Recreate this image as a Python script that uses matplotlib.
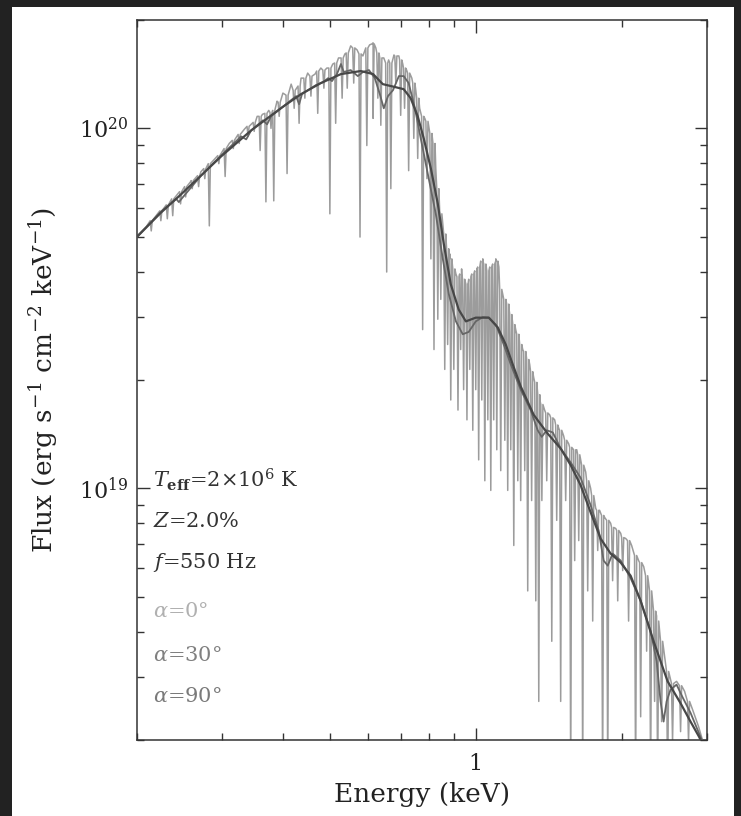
import numpy as np
import matplotlib.pyplot as plt
from matplotlib.patches import Rectangle
from matplotlib.ticker import NullFormatter, LogLocator

plt.rcParams["font.family"] = "DejaVu Serif"
plt.rcParams["mathtext.fontset"] = "dejavuserif"

# flux values are in units of 1e19 erg/s/cm^2/keV, energies in keV

# alpha = 90 deg (smooth, fully broadened)
e90 = [0.201, 0.224, 0.246, 0.271, 0.298, 0.344, 0.396, 0.436, 0.479, 0.527,
       0.579, 0.614, 0.643, 0.684, 0.710, 0.734, 0.759, 0.781, 0.808, 0.835,
       0.859, 0.888, 0.922, 0.954, 1.000, 1.064, 1.110, 1.153, 1.192, 1.238,
       1.317, 1.407, 1.497, 1.570, 1.646, 1.726, 1.810, 1.898, 1.991, 2.087,
       2.189, 2.328, 2.488, 2.646, 2.774, 2.890, 2.979]
f90 = [5.03, 5.83, 6.54, 7.39, 8.35, 9.87, 11.37, 12.45, 13.36, 14.15,
       14.43, 14.15, 13.27, 13.01, 12.85, 12.13, 10.80, 9.38, 7.73, 6.17,
       4.78, 3.69, 3.14, 2.91, 2.98, 2.98, 2.80, 2.51, 2.21, 1.92,
       1.60, 1.42, 1.29, 1.16, 1.02, 0.858, 0.725, 0.659, 0.622, 0.572,
       0.487, 0.376, 0.291, 0.253, 0.225, 0.204, 0.187]

# alpha = 30 deg
e30 = [0.201, 0.224, 0.241, 0.244, 0.248, 0.271, 0.298, 0.328, 0.336, 0.344,
       0.364, 0.371, 0.378, 0.406, 0.426, 0.432, 0.438, 0.468, 0.484, 0.496,
       0.505, 0.517, 0.527, 0.534, 0.552, 0.571, 0.585, 0.602, 0.619, 0.634,
       0.646, 0.659, 0.675, 0.694, 0.710, 0.727, 0.749, 0.770, 0.796, 0.827,
       0.855, 0.880, 0.910, 0.940, 0.967, 1.000, 1.034, 1.064, 1.100, 1.142,
       1.181, 1.238, 1.298, 1.342, 1.368, 1.401, 1.442, 1.497, 1.570, 1.646,
       1.726, 1.793, 1.836, 1.872, 1.916, 1.991, 2.087, 2.189, 2.295, 2.362,
       2.406, 2.441, 2.476, 2.523, 2.596, 2.671, 2.774, 2.909, 2.993]
f30 = [5.03, 5.87, 6.37, 6.24, 6.41, 7.39, 8.40, 9.50, 9.32, 9.87,
       10.53, 10.26, 10.80, 11.67, 12.29, 11.67, 12.45, 13.19, 13.44, 13.79,
       13.53, 14.15, 15.09, 14.34, 14.52, 13.97, 14.34, 14.52, 13.79, 12.45,
       11.37, 12.29, 12.77, 13.97, 13.97, 13.36, 11.37, 9.38, 7.49, 5.79,
       4.34, 3.46, 2.91, 2.68, 2.72, 2.91, 2.99, 2.98, 2.85, 2.51,
       2.21, 1.88, 1.65, 1.45, 1.39, 1.45, 1.43, 1.29, 1.18, 1.07,
       0.897, 0.764, 0.630, 0.610, 0.659, 0.630, 0.563, 0.487, 0.401, 0.331,
       0.256, 0.225, 0.256, 0.276, 0.285, 0.263, 0.238, 0.204, 0.187]

# alpha = 0 deg: continuum envelope
e0_env = [0.201, 0.209, 0.219, 0.241, 0.258, 0.271, 0.290, 0.310, 0.333, 0.354,
          0.363, 0.374, 0.389, 0.400, 0.416, 0.436, 0.450, 0.466, 0.479, 0.493,
          0.507, 0.521, 0.537, 0.552, 0.569, 0.585, 0.604, 0.614, 0.622, 0.646,
          0.661, 0.678, 0.694, 0.707, 0.720, 0.738, 0.752, 0.766, 0.785, 0.800,
          0.812, 0.827, 0.839, 0.855, 0.867, 0.884, 0.910, 0.935, 0.963, 0.977,
          1.005, 1.034, 1.064, 1.100, 1.116, 1.137, 1.170, 1.209, 1.250, 1.292,
          1.317, 1.356, 1.387, 1.421, 1.455, 1.483, 1.518, 1.555, 1.616, 1.646,
          1.686, 1.726, 1.768, 1.801, 1.845, 1.898, 1.944, 1.991, 2.038, 2.097,
          2.168, 2.221, 2.273, 2.317, 2.361, 2.395, 2.452, 2.523, 2.596, 2.697,
          2.801, 2.882, 2.979]
f0_env = [5.06, 5.33, 5.72, 6.50, 7.11, 7.58, 8.25, 9.08, 9.94, 10.80,
          10.94, 11.22, 11.90, 12.53, 13.27, 13.79, 14.24, 14.15, 14.71, 14.71,
          15.09, 15.69, 16.10, 16.95, 16.52, 15.89, 17.06, 17.28, 16.73, 15.69,
          15.49, 15.99, 15.89, 15.09, 14.52, 13.79, 12.77, 11.37, 10.66, 10.13,
          9.38, 7.73, 6.37, 5.43, 4.78, 4.48, 3.94, 4.07, 3.69, 3.87,
          4.07, 4.34, 4.02, 4.34, 4.12, 3.46, 3.19, 2.76, 2.43, 2.21,
          2.03, 1.76, 1.65, 1.60, 1.55, 1.47, 1.40, 1.33, 1.28, 1.20,
          1.11, 1.00, 0.880, 0.869, 0.830, 0.800, 0.774, 0.750, 0.726, 0.694,
          0.630, 0.606, 0.547, 0.487, 0.442, 0.401, 0.342, 0.295, 0.291, 0.273,
          0.243, 0.218, 0.187]

# alpha = 0 deg: absorption lines (centre, flux at line shoulders, flux at line core)
line_e = [0.214, 0.224, 0.231, 0.237, 0.246, 0.252, 0.260, 0.268, 0.276, 0.282,
          0.295, 0.304, 0.316, 0.325, 0.339, 0.349, 0.359, 0.369, 0.378, 0.383,
          0.393, 0.408, 0.422, 0.432, 0.444, 0.457, 0.472, 0.486, 0.500, 0.514,
          0.530, 0.543, 0.560, 0.577, 0.596, 0.614, 0.628, 0.637, 0.655, 0.668,
          0.684, 0.700, 0.713, 0.727, 0.745, 0.759, 0.777, 0.793, 0.808, 0.820,
          0.835, 0.847, 0.863, 0.875, 0.888, 0.901, 0.919, 0.931, 0.944, 0.959,
          0.972, 0.986, 1.000, 1.014, 1.029, 1.044, 1.059, 1.074, 1.089, 1.105,
          1.126, 1.148, 1.164, 1.181, 1.198, 1.221, 1.238, 1.262, 1.280, 1.304,
          1.330, 1.349, 1.369, 1.401, 1.435, 1.469, 1.497, 1.533, 1.570, 1.600,
          1.631, 1.662, 1.702, 1.743, 1.785, 1.827, 1.872, 1.916, 1.963, 2.010,
          2.067, 2.137, 2.189, 2.252, 2.295, 2.339, 2.373, 2.418, 2.488, 2.547,
          2.646, 2.748]
line_top = [5.54, 5.90, 6.13, 6.37, 6.67, 6.89, 7.16, 7.39, 7.73, 7.98,
            8.40, 8.79, 9.26, 9.62, 10.13, 10.39, 10.80, 11.01, 11.08, 11.22,
            11.82, 12.37, 12.76, 13.11, 13.79, 13.97, 14.43, 14.52, 14.71, 15.19,
            15.69, 16.20, 16.73, 16.10, 16.73, 17.17, 16.20, 15.69, 15.19, 15.19,
            15.89, 15.49, 14.71, 14.24, 13.36, 12.13, 10.80, 10.46, 9.68, 9.08,
            6.80, 5.79, 5.09, 4.63, 4.34, 4.07, 3.87, 3.94, 3.81, 3.69,
            3.81, 3.94, 4.02, 4.12, 4.28, 4.20, 4.02, 4.12, 4.20, 4.28,
            3.57, 3.35, 3.25, 3.04, 2.85, 2.68, 2.51, 2.40, 2.28, 2.11,
            1.97, 1.82, 1.71, 1.62, 1.57, 1.50, 1.45, 1.36, 1.30, 1.28,
            1.24, 1.16, 1.05, 0.955, 0.869, 0.841, 0.815, 0.779, 0.764, 0.730,
            0.716, 0.651, 0.622, 0.572, 0.519, 0.456, 0.428, 0.376, 0.310, 0.287,
            0.283, 0.256]
line_bot = [5.19, 5.54, 5.61, 5.72, 6.17, 6.45, 6.80, 6.89, 7.25, 5.36,
            7.98, 7.35, 8.79, 9.08, 9.50, 9.81, 8.68, 6.25, 10.00, 6.29,
            10.80, 7.49, 11.37, 10.33, 12.13, 12.29, 11.01, 12.93, 5.79, 10.33,
            12.13, 12.93, 13.36, 4.99, 8.96, 10.66, 12.13, 10.20, 3.99, 6.80,
            13.36, 10.87, 11.37, 7.63, 9.38, 8.25, 2.76, 7.25, 4.34, 2.43,
            2.95, 3.35, 2.14, 2.51, 1.76, 2.14, 1.65, 2.43, 1.88, 1.55,
            2.14, 1.45, 1.88, 1.20, 1.76, 1.05, 1.55, 0.987, 1.55, 1.28,
            1.12, 1.36, 0.987, 1.28, 0.694, 1.05, 0.925, 1.12, 0.519, 0.925,
            0.487, 0.256, 0.925, 1.05, 0.376, 0.815, 0.256, 0.925, 0.15, 0.630,
            0.716, 0.15, 0.519, 0.428, 0.672, 0.15, 0.15, 0.554, 0.487, 0.591,
            0.428, 0.15, 0.232, 0.353, 0.15, 0.256, 0.15, 0.225, 0.15, 0.198,
            0.211, 0.198]

# build the alpha=0 curve: envelope plus narrow V-shaped line profiles
w = 1.005
le = np.array(line_e)
dip_x = np.column_stack([le / w, le, le * w]).ravel()
dip_y = np.column_stack([line_top, line_bot, line_top]).ravel()
x0 = np.concatenate([e0_env, dip_x])
y0 = np.concatenate([f0_env, dip_y])
order = np.argsort(x0, kind="stable")
x0, y0 = x0[order], y0[order]

fig = plt.figure(figsize=(7.41, 8.16), dpi=100)
fig.patch.set_facecolor("#222222")
fig.add_artist(Rectangle((12 / 741, 0), 722 / 741, 809 / 816, transform=fig.transFigure,
                         facecolor="white", edgecolor="none", zorder=-5))
ax = fig.add_axes([137 / 741, 76 / 816, 570 / 741, 720 / 816])

ax.plot(x0, y0 * 1e19, color="#9c9c9c", lw=1.1, zorder=2)
ax.plot(e30, np.array(f30) * 1e19, color="#666666", lw=1.3, zorder=3)
ax.plot(e90, np.array(f90) * 1e19, color="#474747", lw=1.6, zorder=4)

ax.set_xscale("log")
ax.set_yscale("log")
ax.set_xlim(0.2, 3.0)
ax.set_ylim(2e18, 2e20)

ax.set_xticks([1])
ax.set_xticklabels(["1"])
ax.xaxis.set_minor_locator(LogLocator(base=10, subs=np.arange(2, 10)))
ax.xaxis.set_minor_formatter(NullFormatter())
ax.yaxis.set_minor_locator(LogLocator(base=10, subs=np.arange(2, 10)))
ax.yaxis.set_minor_formatter(NullFormatter())

ax.tick_params(which="both", direction="in", top=True, right=True,
               color="#333333", labelsize=16, labelcolor="#222222")
ax.tick_params(which="major", length=9, width=1.0)
ax.tick_params(which="minor", length=5, width=1.0)
ax.tick_params(axis="x", pad=9)
ax.tick_params(axis="y", pad=6)
for sp in ax.spines.values():
    sp.set_color("#333333")
    sp.set_linewidth(1.1)

ax.set_xlabel("Energy (keV)", fontsize=19, color="#222222")
ax.xaxis.set_label_coords(0.5, -0.058)
ax.set_ylabel(r"Flux (erg s$^{-1}$ cm$^{-2}$ keV$^{-1}$)", fontsize=19, color="#222222")
ax.yaxis.set_label_coords(-0.135, 0.5)

tx = 0.028
ax.text(tx, 0.361, r"$T_{\mathbf{eff}}$=2$\times$10$^{6}$ K", transform=ax.transAxes,
        fontsize=15, color="#333333", va="center")
ax.text(tx, 0.303, r"$Z$=2.0%", transform=ax.transAxes,
        fontsize=15, color="#333333", va="center")
ax.text(tx, 0.246, r"$f$=550 Hz", transform=ax.transAxes,
        fontsize=15, color="#333333", va="center")
ax.text(tx, 0.178, r"$\alpha$=0°", transform=ax.transAxes,
        fontsize=15, color="#b0b0b0", va="center")
ax.text(tx, 0.118, r"$\alpha$=30°", transform=ax.transAxes,
        fontsize=15, color="#808080", va="center")
ax.text(tx, 0.060, r"$\alpha$=90°", transform=ax.transAxes,
        fontsize=15, color="#7a7a7a", va="center")

fig.savefig("out.png", dpi=100, facecolor=fig.get_facecolor())
